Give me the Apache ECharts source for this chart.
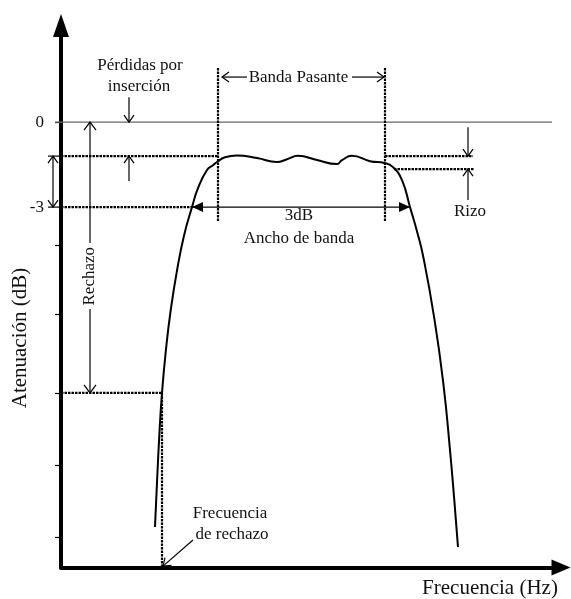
<!DOCTYPE html>
<html>
<head>
<meta charset="utf-8">
<script src="https://cdn.jsdelivr.net/npm/echarts@6/dist/echarts.min.js"></script>
<style>
  html, body { margin: 0; padding: 0; background: #fff; }
  #chart { width: 571px; height: 599px; }
</style>
</head>
<body>
<div id="chart"></div>
<script>
// Band-pass filter response: attenuation (dB) versus frequency (relative units)
const responseFreq = [18.8, 19.22, 19.72, 20.2, 20.98, 21.94, 23.22, 24.62, 26.2, 27.4, 29.2, 30.4, 31.4, 32.8, 35.2, 39.2, 43.2, 45.2, 47.4, 51.2, 55.2, 56.2, 58.2, 61.8, 64.8, 66.4, 68.2, 69.8, 71.3, 72.46, 74.62, 76.46, 77.8, 78.66, 79.4];
const responseDb   = [-14.29, -12.64, -10.87, -9.56, -8.05, -6.64, -5.22, -3.99, -3.0, -2.33, -1.69, -1.52, -1.38, -1.24, -1.18, -1.27, -1.41, -1.31, -1.19, -1.34, -1.48, -1.34, -1.19, -1.38, -1.45, -1.59, -2.05, -3.0, -3.92, -4.76, -6.88, -9.21, -11.58, -13.34, -15.0];

// Reference levels (dB) and frequencies
const insertionLossDb = -1.2;
const rippleFloorDb = -1.66;
const cutoffDb = -3;
const rejectionDb = -9.56;
const rejectionFreq = 20.2;
const passbandEdges = [31.4, 64.8];
const cutoffEdges = [26.2, 69.8];

// Axis ticks and labels
const yTickValues = [0, -4.34, -6.78, -9.56, -12.1, -14.65];
const yLabelValues = [0, -3];
const yRange = [-15.72, 3.41];
const xRange = [0, 100];

const SERIF = '"Liberation Serif", "Times New Roman", serif';
const chart = echarts.init(document.getElementById('chart'));

function renderGuides(params, api) {
  const P = (f, v) => api.coord([f, v]);
  const kids = [];
  const thin = { stroke: '#000', lineWidth: 1.2 };
  const dotted = { stroke: '#000', lineWidth: 2.2, lineDash: [2.5, 1] };

  function seg(a, b, style) {
    kids.push({ type: 'line', shape: { x1: a[0], y1: a[1], x2: b[0], y2: b[1] }, style: style });
  }
  function dir(tip, from) {
    const dx = tip[0] - from[0], dy = tip[1] - from[1];
    const L = Math.hypot(dx, dy) || 1;
    return [dx / L, dy / L];
  }
  function openHead(tip, from, len, half) {
    len = len || 7; half = half || 5;
    const u = dir(tip, from);
    const bx = tip[0] - u[0] * len, by = tip[1] - u[1] * len;
    kids.push({
      type: 'polyline',
      shape: { points: [[bx - u[1] * half, by + u[0] * half], tip, [bx + u[1] * half, by - u[0] * half]] },
      style: { stroke: '#000', lineWidth: 1.2, fill: 'none' }
    });
  }
  function filledHead(tip, from, len, half) {
    len = len || 11; half = half || 5;
    const u = dir(tip, from);
    const bx = tip[0] - u[0] * len, by = tip[1] - u[1] * len;
    kids.push({
      type: 'polygon',
      shape: { points: [[bx - u[1] * half, by + u[0] * half], tip, [bx + u[1] * half, by - u[0] * half]] },
      style: { fill: '#000', stroke: 'none' }
    });
  }
  function arrow(from, tip, filled) {
    seg(from, tip, thin);
    if (filled) filledHead(tip, from); else openHead(tip, from);
  }
  function label(str, p, size, rot) {
    kids.push({
      type: 'text', x: p[0], y: p[1], rotation: rot || 0,
      style: { text: str, font: (size || 17) + 'px ' + SERIF, fill: '#111', align: 'center', verticalAlign: 'middle' }
    });
  }

  // 0 dB reference line
  seg(P(-1.2, 0), P(98.2, 0), { stroke: '#666', lineWidth: 1.2 });

  // longer ticks at the insertion-loss and -3 dB levels
  seg(P(-2.6, insertionLossDb), P(0, insertionLossDb), thin);
  seg(P(-2.6, cutoffDb), P(0, cutoffDb), thin);

  // dotted level guides
  seg(P(0, insertionLossDb), P(passbandEdges[0], insertionLossDb), dotted);
  seg(P(0, cutoffDb), P(cutoffEdges[0], cutoffDb), dotted);
  seg(P(0, rejectionDb), P(rejectionFreq, rejectionDb), dotted);
  seg(P(rejectionFreq, rejectionDb), P(rejectionFreq, yRange[0]), dotted);
  seg(P(passbandEdges[1], insertionLossDb), P(82.4, insertionLossDb), dotted);
  seg(P(66.6, rippleFloorDb), P(82.6, rippleFloorDb), dotted);

  // passband edges
  passbandEdges.forEach(function (f) { seg(P(f, 1.91), P(f, -3.49), dotted); });

  // Banda Pasante
  arrow(P(37.2, 1.59), P(32.2, 1.59));
  arrow(P(58.2, 1.59), P(64.6, 1.59));
  label('Banda Pasante', P(47.5, 1.59));

  // 3 dB bandwidth
  seg(P(cutoffEdges[0], cutoffDb), P(cutoffEdges[1], cutoffDb), thin);
  filledHead(P(cutoffEdges[0], cutoffDb), P(cutoffEdges[1], cutoffDb));
  filledHead(P(cutoffEdges[1], cutoffDb), P(cutoffEdges[0], cutoffDb));
  label('3dB', P(47.6, -3.3));
  label('Ancho de banda', P(47.6, -4.1));

  // insertion loss
  label('Pérdidas por', P(15.8, 2.01));
  label('inserción', P(15.6, 1.27));
  arrow(P(13.6, 0.88), P(13.6, 0));
  arrow(P(13.6, -2.08), P(13.6, insertionLossDb));

  // double arrow between insertion loss and -3 dB
  seg(P(-1.6, insertionLossDb), P(-1.6, cutoffDb), thin);
  openHead(P(-1.6, insertionLossDb), P(-1.6, cutoffDb));
  openHead(P(-1.6, cutoffDb), P(-1.6, insertionLossDb));

  // rejection
  seg(P(5.8, 0), P(5.8, -4.27), thin);
  openHead(P(5.8, 0), P(5.8, -2), 8, 6);
  seg(P(5.8, -6.6), P(5.8, rejectionDb), thin);
  openHead(P(5.8, rejectionDb), P(5.8, -8), 8, 6);
  label('Rechazo', P(5.8, -5.44), 17, Math.PI / 2);

  // ripple
  arrow(P(81.4, -0.18), P(81.4, insertionLossDb));
  arrow(P(81.4, -2.75), P(81.4, rippleFloorDb));
  label('Rizo', P(81.8, -3.14));

  // rejection frequency
  label('Frecuencia', P(33.8, -13.8));
  label('de rechazo', P(34.2, -14.54));
  arrow(P(26.4, -14.75), P(rejectionFreq + 0.2, -15.67));

  return { type: 'group', children: kids };
}

chart.setOption({
  animation: false,
  backgroundColor: '#fff',
  grid: { left: 61, right: 10, top: 25.5, bottom: 31.5, containLabel: false, outerBoundsMode: 'none' },
  xAxis: {
    type: 'value', min: xRange[0], max: xRange[1],
    axisLine: { show: true, onZero: false, symbol: ['none', 'triangle'], symbolSize: [16, 19], lineStyle: { color: '#000', width: 4 } },
    axisTick: { show: false }, axisLabel: { show: false }, splitLine: { show: false }
  },
  yAxis: {
    type: 'value', min: yRange[0], max: yRange[1],
    axisLine: { show: true, onZero: false, symbol: ['none', 'triangle'], symbolSize: [16, 23], lineStyle: { color: '#000', width: 4 } },
    axisTick: { show: true, customValues: yTickValues, length: 6, lineStyle: { color: '#000', width: 1.2 } },
    axisLabel: {
      show: true, customValues: yLabelValues, margin: 17,
      color: '#111', fontFamily: SERIF, fontSize: 17,
      formatter: function (v) { return String(Math.round(v)); }
    },
    splitLine: { show: false }
  },
  graphic: [
    { type: 'text', x: 20, y: 338, rotation: Math.PI / 2,
      style: { text: 'Atenuación (dB)', font: '21px ' + SERIF, fill: '#111', align: 'center', verticalAlign: 'middle' } },
    { type: 'text', x: 490, y: 588,
      style: { text: 'Frecuencia (Hz)', font: '21px ' + SERIF, fill: '#111', align: 'center', verticalAlign: 'middle' } }
  ],
  series: [
    {
      type: 'line', name: 'Respuesta',
      data: responseFreq.map(function (f, i) { return [f, responseDb[i]]; }),
      smooth: 0.5, showSymbol: false, clip: false,
      lineStyle: { color: '#000', width: 2 }
    },
    {
      type: 'custom', name: 'Guías', coordinateSystem: 'cartesian2d',
      data: [[0, 0]], renderItem: renderGuides, clip: false, silent: true, z: 3
    }
  ]
});
</script>
</body>
</html>
